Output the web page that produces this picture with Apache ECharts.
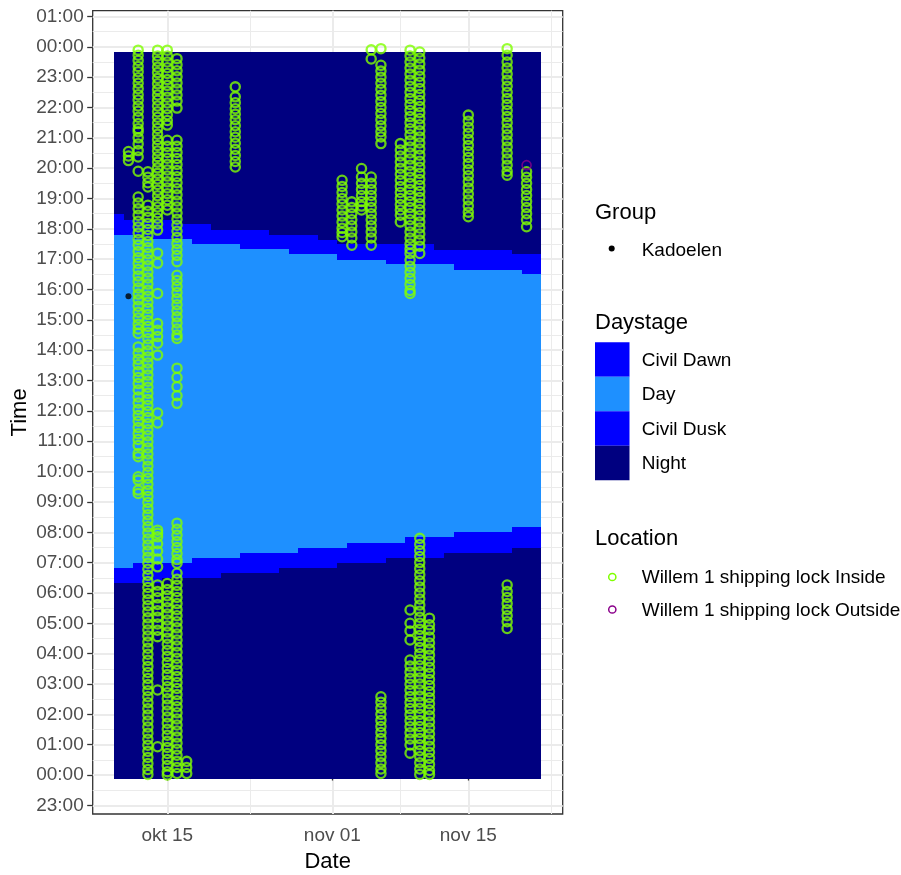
<!DOCTYPE html>
<html><head><meta charset="utf-8">
<script src="https://cdn.jsdelivr.net/npm/echarts@6/dist/echarts.min.js"></script>
<style>html,body{margin:0;padding:0;background:#fff}#c{width:901px;height:875px}</style>
</head><body><div id="c"></div><script>
// ---------- DATA ----------
const tileDates = ['2021-10-10','2021-10-11','2021-10-12','2021-10-13','2021-10-14','2021-10-15','2021-10-16','2021-10-17','2021-10-18','2021-10-19','2021-10-20','2021-10-21','2021-10-22','2021-10-23','2021-10-24','2021-10-25','2021-10-26','2021-10-27','2021-10-28','2021-10-29','2021-10-30','2021-10-31','2021-11-01','2021-11-02','2021-11-03','2021-11-04','2021-11-05','2021-11-06','2021-11-07','2021-11-08','2021-11-09','2021-11-10','2021-11-11','2021-11-12','2021-11-13','2021-11-14','2021-11-15','2021-11-16','2021-11-17','2021-11-18','2021-11-19','2021-11-20','2021-11-21','2021-11-22'];
// hours of the day at which each daystage starts
const dawnStart = [6.34,6.34,6.34,6.34,6.34,6.48,6.48,6.48,6.48,6.48,6.48,6.67,6.67,6.67,6.67,6.67,6.67,6.81,6.81,6.81,6.81,6.81,6.81,7.0,7.0,7.0,7.0,7.0,7.14,7.14,7.14,7.14,7.14,7.14,7.33,7.33,7.33,7.33,7.33,7.33,7.33,7.47,7.47,7.47];
const sunrise = [6.81,6.81,7.0,7.0,7.0,7.0,7.0,7.0,7.14,7.14,7.14,7.14,7.14,7.33,7.33,7.33,7.33,7.33,7.33,7.47,7.47,7.47,7.47,7.47,7.66,7.66,7.66,7.66,7.66,7.66,7.85,7.85,7.85,7.85,7.85,8.0,8.0,8.0,8.0,8.0,8.0,8.18,8.18,8.18];
const sunset = [17.81,17.81,17.65,17.65,17.65,17.65,17.65,17.65,17.49,17.49,17.49,17.49,17.49,17.32,17.32,17.32,17.32,17.32,17.16,17.16,17.16,17.16,17.16,16.99,16.99,16.99,16.99,16.99,16.83,16.83,16.83,16.83,16.83,16.83,16.83,16.66,16.66,16.66,16.66,16.66,16.66,16.66,16.51,16.51];
const duskEnd = [18.48,18.29,18.29,18.29,18.29,18.29,18.29,18.15,18.15,18.15,17.96,17.96,17.96,17.96,17.96,17.96,17.81,17.81,17.81,17.81,17.81,17.64,17.64,17.49,17.49,17.49,17.49,17.49,17.49,17.49,17.49,17.49,17.49,17.30,17.30,17.30,17.30,17.30,17.30,17.30,17.30,17.16,17.16,17.16];
const TILE_BOTTOM = -0.12, TILE_TOP = 23.84;
const stageNames = ['Civil Dawn','Day','Civil Dusk','Night'];
const stageColors = ['#0000FF','#1E90FF','#0000FF','#000080'];

const insideDates = ['2021-10-11','2021-10-12','2021-10-13','2021-10-14','2021-10-15','2021-10-16','2021-10-17','2021-10-22','2021-11-02','2021-11-03','2021-11-04','2021-11-05','2021-11-06','2021-11-08','2021-11-09','2021-11-10','2021-11-11','2021-11-15','2021-11-19','2021-11-21'];
const insideTimes = [
 [20.55,20.4,20.25],
 [23.89,23.72,23.55,23.35,23.18,22.98,22.8,22.62,22.42,22.25,22.05,21.88,21.68,21.47,21.3,21.2,21.0,20.8,20.58,20.37,19.9,19.05,18.85,18.66,18.45,18.25,18.06,17.86,17.65,17.46,17.25,17.05,16.86,16.66,16.45,16.26,16.05,15.85,15.66,15.45,15.25,15.06,14.86,14.7,14.55,14.11,13.9,13.7,13.52,13.3,13.1,12.9,12.69,12.46,12.26,12.05,11.85,11.66,11.45,11.25,11.06,10.86,10.6,10.49,9.83,9.72,9.39,9.28],
 [19.88,19.7,19.52,19.38,18.78,18.58,18.38,18.18,17.98,17.78,17.58,17.38,17.18,16.98,16.78,16.58,16.38,16.18,15.98,15.78,15.58,15.38,15.18,14.98,14.78,14.58,14.38,14.18,13.98,13.78,13.58,13.38,13.18,12.98,12.78,12.58,12.38,12.18,11.98,11.78,11.58,11.38,11.18,10.98,10.78,10.58,10.38,10.18,9.98,9.78,9.58,9.38,9.18,8.98,8.78,8.58,8.38,8.18,7.98,7.78,7.58,7.38,7.18,6.98,6.78,6.58,6.38,6.18,5.98,5.78,5.58,5.38,5.18,4.98,4.78,4.58,4.38,4.18,3.98,3.78,3.58,3.38,3.18,2.98,2.78,2.58,2.38,2.18,1.98,1.78,1.58,1.38,1.18,0.98,0.78,0.58,0.38,0.18,0.02],
 [23.89,23.7,23.52,23.33,23.15,22.96,22.78,22.59,22.41,22.24,22.05,21.86,21.68,21.49,21.31,21.12,20.94,20.75,20.57,20.38,20.2,20.01,19.83,19.64,19.46,19.27,19.09,18.9,18.72,18.53,18.35,18.16,17.96,17.2,16.87,15.87,14.88,14.66,14.45,14.23,13.84,11.93,11.6,8.07,7.97,7.85,7.62,7.38,7.12,6.86,6.26,6.05,5.84,5.62,5.41,5.2,4.98,4.77,4.56,2.8,0.93],
 [23.89,23.7,23.5,23.31,23.12,22.92,22.73,22.54,22.34,22.15,21.96,21.76,21.57,21.42,20.92,20.72,20.52,20.33,20.13,19.94,19.74,19.55,19.35,19.16,18.96,18.78,18.62,6.31,6.11,5.91,5.71,5.51,5.31,5.11,4.91,4.71,4.51,4.31,4.11,3.91,3.71,3.51,3.31,3.11,2.91,2.71,2.51,2.31,2.11,1.91,1.71,1.51,1.31,1.11,0.91,0.71,0.51,0.31,0.11,0.0],
 [23.61,23.41,23.21,23.01,22.81,22.61,22.41,22.21,21.98,20.92,20.72,20.52,20.32,20.12,19.92,19.72,19.52,19.32,19.12,18.92,18.72,18.52,18.32,18.12,17.92,17.72,17.52,17.32,17.12,16.92,16.47,16.3,16.1,15.9,15.7,15.5,15.3,15.1,14.9,14.7,14.5,14.39,13.41,13.1,12.8,12.5,12.25,8.3,8.1,7.9,7.7,7.5,7.3,7.1,6.98,6.65,6.45,6.25,6.05,5.85,5.65,5.45,5.25,5.05,4.85,4.65,4.45,4.25,4.05,3.85,3.65,3.45,3.25,3.05,2.85,2.65,2.45,2.25,2.05,1.85,1.65,1.45,1.25,1.05,0.85,0.65,0.45,0.25,0.05],
 [0.45,0.25,0.05],
 [22.68,22.35,22.16,21.96,21.78,21.6,21.4,21.2,21.02,20.82,20.62,20.42,20.22,20.04],
 [19.6,19.4,19.2,19.0,18.82,18.62,18.42,18.22,18.02,17.88,17.74],
 [18.89,18.7,18.5,18.3,18.1,17.9,17.7,17.46],
 [19.99,19.71,19.5,19.3,19.1,18.9,18.75,18.62],
 [23.9,23.6,19.71,19.5,19.3,19.1,18.9,18.7,18.5,18.3,18.1,17.9,17.7,17.46],
 [23.94,23.39,23.2,23.0,22.8,22.6,22.4,22.2,22.0,21.8,21.6,21.4,21.2,21.03,20.81,2.58,2.4,2.2,2.0,1.8,1.6,1.4,1.2,1.0,0.8,0.6,0.4,0.2,0.05],
 [20.81,20.6,20.4,20.2,20.0,19.8,19.6,19.4,19.2,19.0,18.8,18.62,18.45,18.23],
 [23.89,23.7,23.5,23.3,23.1,22.9,22.7,22.5,22.3,22.1,21.9,21.7,21.5,21.3,21.1,20.9,20.7,20.5,20.3,20.1,19.9,19.7,19.5,19.3,19.1,18.9,18.7,18.5,18.3,18.1,17.9,17.7,17.5,17.34,17.19,16.97,16.77,16.57,16.37,16.17,15.97,15.87,5.44,5.0,4.75,4.45,3.79,3.59,3.39,3.19,2.99,2.79,2.59,2.39,2.19,1.99,1.79,1.59,1.39,1.19,0.99,0.72],
 [23.83,23.63,23.43,23.23,23.03,22.83,22.63,22.43,22.23,22.03,21.83,21.63,21.43,21.23,21.03,20.83,20.63,20.43,20.23,20.03,19.83,19.63,19.43,19.23,19.03,18.83,18.63,18.43,18.23,18.03,17.83,17.63,17.43,17.19,7.8,7.6,7.4,7.2,7.0,6.8,6.6,6.4,6.2,6.0,5.8,5.6,5.4,5.2,5.0,4.8,4.6,4.4,4.2,4.0,3.8,3.6,3.4,3.2,3.0,2.8,2.6,2.4,2.2,2.0,1.8,1.6,1.4,1.2,1.0,0.8,0.6,0.4,0.2,0.02],
 [5.17,4.95,4.78,4.55,4.35,4.15,3.95,3.75,3.55,3.35,3.15,2.95,2.75,2.55,2.35,2.15,1.95,1.75,1.55,1.35,1.15,0.95,0.75,0.55,0.35,0.15,0.02],
 [21.75,21.55,21.35,21.15,20.95,20.75,20.55,20.35,20.15,19.95,19.75,19.55,19.35,19.15,18.95,18.75,18.55,18.4],
 [23.94,23.72,23.5,23.3,23.1,22.9,22.7,22.5,22.3,22.1,21.9,21.7,21.5,21.3,21.1,20.9,20.7,20.5,20.3,20.1,19.9,19.77,6.26,6.05,5.85,5.65,5.45,5.25,5.05,4.83],
 [19.88,19.7,19.5,19.3,19.1,18.9,18.7,18.5,18.3,18.07]
];
const outsideDates = ['2021-11-21'];
const outsideTimes = [[20.1]];
const kadoelenDates = ['2021-10-11'];
const kadoelenTimes = [[15.78]];

const xTickDates = ['2021-10-15','2021-11-01','2021-11-15'];
const xTickLabels = ['okt 15','nov 01','nov 15'];
const xMinorDates = ['2021-10-23T12:00:00','2021-11-08T00:00:00','2021-11-23T12:00:00'];
const yTickValues = [-1,0,1,2,3,4,5,6,7,8,9,10,11,12,13,14,15,16,17,18,19,20,21,22,23,24,25];
const yTickLabels = ['23:00','00:00','01:00','02:00','03:00','04:00','05:00','06:00','07:00','08:00','09:00','10:00','11:00','12:00','13:00','14:00','15:00','16:00','17:00','18:00','19:00','20:00','21:00','22:00','23:00','00:00','01:00'];
const yMinorValues = [-0.5,0.5,1.5,2.5,3.5,4.5,5.5,6.5,7.5,8.5,9.5,10.5,11.5,12.5,13.5,14.5,15.5,16.5,17.5,18.5,19.5,20.5,21.5,22.5,23.5,24.5];

// ---------- BUILD ----------
const DAY = 86400000;
const ts = s => Date.parse(s.length === 10 ? s + 'T00:00:00Z' : s + 'Z');
const X0 = ts('2021-10-15');
const X_MIN = X0 - 7.683 * DAY, X_MAX = X0 + 40.72 * DAY;
const Y_MIN = -1.285, Y_MAX = 25.19;
const FONT = '"Liberation Sans", Arial, sans-serif';

const tileRows = [];
const stageOrder = [3, 0, 1, 2, 3];
tileDates.forEach((d, i) => {
  const b = [TILE_BOTTOM, dawnStart[i], sunrise[i], sunset[i], duskEnd[i], TILE_TOP];
  for (let k = 0; k < 5; k++) tileRows.push([ts(d), b[k], b[k + 1], stageOrder[k]]);
});
const pts = (dates, times) => {
  const out = [];
  dates.forEach((d, i) => times[i].forEach(h => out.push([ts(d), h])));
  return out;
};
const xTickTs = xTickDates.map(ts);

const chart = echarts.init(document.getElementById('c'), null, {renderer: 'canvas'});
const legendX = 595, labelX = 641.7;
const keyY = [342.3, 376.8, 411.3, 445.8], keyH = 34.5;
const LBL = '19px ' + FONT, TTL = '22px ' + FONT;
const graphic = [
  {type:'text', x: legendX, y: 213, style:{text:'Group', font: TTL, fill:'#000', verticalAlign:'middle'}},
  {type:'circle', shape:{cx: 611.7, cy: 248.5, r: 3}, style:{fill:'#000'}},
  {type:'text', x: labelX, y: 250.5, style:{text:'Kadoelen', font: LBL, fill:'#000', verticalAlign:'middle'}},
  {type:'text', x: legendX, y: 323.3, style:{text:'Daystage', font: TTL, fill:'#000', verticalAlign:'middle'}},
  {type:'text', x: legendX, y: 539.3, style:{text:'Location', font: TTL, fill:'#000', verticalAlign:'middle'}},
  {type:'circle', shape:{cx: 612.3, cy: 577, r: 3.6}, style:{fill:'none', stroke:'#7FFF00', lineWidth: 1.5}},
  {type:'text', x: labelX, y: 578, style:{text:'Willem 1 shipping lock Inside', font: LBL, fill:'#000', verticalAlign:'middle'}},
  {type:'circle', shape:{cx: 612.3, cy: 609.5, r: 3.6}, style:{fill:'none', stroke:'#8B008B', lineWidth: 1.5}},
  {type:'text', x: labelX, y: 611, style:{text:'Willem 1 shipping lock Outside', font: LBL, fill:'#000', verticalAlign:'middle'}}
];
stageNames.forEach((n, i) => {
  graphic.push({type:'rect', shape:{x: legendX, y: keyY[i], width: 34.5, height: keyH}, style:{fill: stageColors[i]}});
  graphic.push({type:'text', x: labelX, y: keyY[i] + keyH / 2 + 1, style:{text: n, font: LBL, fill:'#000', verticalAlign:'middle'}});
});

const option = {
  animation: false,
  backgroundColor: '#fff',
  grid: {left: 92.7, top: 10.7, right: 901 - 562.7, bottom: 875 - 814, show: true, borderColor: '#333333', borderWidth: 1.3, backgroundColor: 'transparent', containLabel: false, outerBoundsMode: 'none'},
  xAxis: [{
    type: 'value', min: X_MIN, max: X_MAX,
    name: 'Date', nameLocation: 'middle', nameGap: 37, nameMoveOverlap: false,
    nameTextStyle: {fontSize: 22, color: '#000', fontFamily: FONT},
    axisLine: {show: false},
    axisTick: {show: true, length: 5.5, customValues: xTickTs, lineStyle: {color: '#333333', width: 1.3}},
    axisLabel: {customValues: xTickTs, fontSize: 19, color: '#4D4D4D', fontFamily: FONT, margin: 12,
      formatter: v => { const i = xTickTs.findIndex(t => Math.abs(t - v) < DAY / 2); return i >= 0 ? xTickLabels[i] : ''; }},
    splitLine: {show: true, lineStyle: {color: '#EBEBEB', width: 2}}
  }, {
    type: 'value', min: X_MIN, max: X_MAX, position: 'top',
    axisLine: {show: false}, axisLabel: {show: false},
    axisTick: {show: false, customValues: xMinorDates.map(ts)},
    splitLine: {show: true, lineStyle: {color: '#EBEBEB', width: 1}}
  }],
  yAxis: [{
    type: 'value', min: Y_MIN, max: Y_MAX,
    name: 'Time', nameLocation: 'middle', nameGap: 62, nameRotate: 90, nameMoveOverlap: false,
    nameTextStyle: {fontSize: 22, color: '#000', fontFamily: FONT},
    axisLine: {show: false},
    axisTick: {show: true, length: 5.5, customValues: yTickValues, lineStyle: {color: '#333333', width: 1.3}},
    axisLabel: {customValues: yTickValues, fontSize: 19, color: '#4D4D4D', fontFamily: FONT, margin: 9,
      formatter: v => { const i = yTickValues.indexOf(Math.round(v)); return i >= 0 ? yTickLabels[i] : ''; }},
    splitLine: {show: true, lineStyle: {color: '#EBEBEB', width: 2}}
  }, {
    type: 'value', min: Y_MIN, max: Y_MAX, position: 'right',
    axisLine: {show: false}, axisLabel: {show: false},
    axisTick: {show: false, customValues: yMinorValues},
    splitLine: {show: true, lineStyle: {color: '#EBEBEB', width: 1}}
  }],
  series: [{
    type: 'custom', name: 'Daystage', xAxisIndex: 0, yAxisIndex: 0, z: 1, silent: true,
    data: tileRows, encode: {x: 0, y: [1, 2]},
    renderItem: (params, api) => {
      const t = api.value(0), y0 = api.value(1), y1 = api.value(2), s = api.value(3);
      const p0 = api.coord([t - DAY / 2, y1]);
      const p1 = api.coord([t + DAY / 2, y0]);
      const x0 = Math.round(p0[0]), x1 = Math.round(p1[0]);
      const ya = Math.round(p0[1]), yb = Math.round(p1[1]);
      return {type: 'rect', shape: {x: x0, y: ya, width: x1 - x0, height: yb - ya}, style: {fill: stageColors[s]}};
    }
  }, {
    type: 'scatter', name: 'Willem 1 shipping lock Inside', z: 3, silent: true,
    data: pts(insideDates, insideTimes), symbol: 'circle', symbolSize: 9.2,
    itemStyle: {color: 'rgba(0,0,0,0)', borderColor: '#7FFF00', borderWidth: 2.3}
  }, {
    type: 'scatter', name: 'Willem 1 shipping lock Outside', z: 3, silent: true,
    data: pts(outsideDates, outsideTimes), symbol: 'circle', symbolSize: 9,
    itemStyle: {color: 'rgba(0,0,0,0)', borderColor: '#8B008B', borderWidth: 1.6}
  }, {
    type: 'scatter', name: 'Kadoelen', z: 4, silent: true,
    data: pts(kadoelenDates, kadoelenTimes), symbol: 'circle', symbolSize: 6,
    itemStyle: {color: '#000'}
  }],
  graphic: graphic
};
chart.setOption(option);
</script></body></html>
